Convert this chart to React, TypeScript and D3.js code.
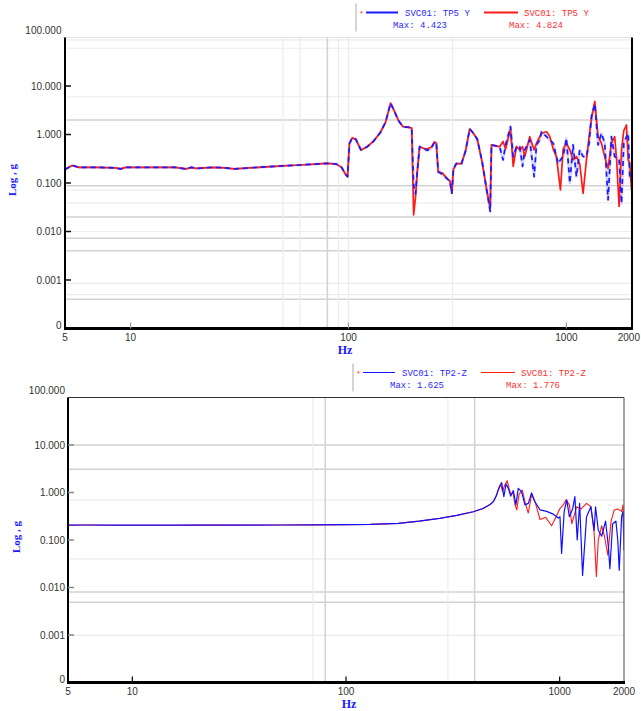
import React from 'react';
import * as d3 from 'd3';

type Pt = [number, number];

// Top panel (SVC01: TP5 Y), [Hz, g]; both traces coincide up to ~195 Hz
const topShared: Pt[] = [
  [5, 0.19], [5.4, 0.23], [5.8, 0.21], [7, 0.21], [8.5, 0.205], [9, 0.195], [9.5, 0.21],
  [12, 0.21], [16, 0.21], [18, 0.195], [19, 0.21], [20, 0.2], [24, 0.21], [27, 0.205],
  [30, 0.195], [35, 0.205], [42, 0.215], [50, 0.225], [60, 0.235], [70, 0.245], [80, 0.255],
  [88, 0.245], [93, 0.21], [97, 0.15], [99, 0.135], [101, 0.65], [104, 0.85], [108, 0.8],
  [114, 0.48], [122, 0.56], [130, 0.72], [140, 1.1], [148, 1.8], [156, 4.42], [162, 3.1],
  [170, 1.9], [178, 1.45], [190, 1.4], [195, 1.35],
];
const topBlueTail: Pt[] = [
  [199, 0.09], [203, 0.06], [207, 0.18], [212, 0.56], [220, 0.52], [230, 0.47], [240, 0.52],
  [248, 0.7], [253, 0.66], [258, 0.17], [270, 0.15], [285, 0.12], [292, 0.11], [298, 0.062],
  [303, 0.19], [312, 0.25], [330, 0.25], [345, 0.47], [360, 1.3], [372, 1.1], [390, 0.8],
  [410, 0.28], [430, 0.075], [447, 0.026], [453, 0.61], [494, 0.56], [512, 0.3], [526, 0.61],
  [554, 1.45], [570, 0.35], [590, 0.56], [611, 0.56], [629, 0.22], [644, 0.48], [679, 0.77],
  [711, 0.135], [729, 0.61], [755, 0.77], [769, 1.14], [811, 0.9], [870, 0.66], [916, 0.25],
  [939, 0.3], [966, 0.35], [1000, 0.84], [1037, 0.099], [1073, 0.61], [1112, 0.135],
  [1151, 0.48], [1193, 0.35], [1236, 0.35], [1271, 0.66], [1303, 2.33], [1350, 4.3],
  [1398, 0.61], [1448, 1.06], [1499, 0.66], [1553, 0.045], [1609, 0.9], [1666, 0.35],
  [1745, 0.3], [1790, 0.038], [1834, 0.66], [1886, 0.9], [1920, 1.06], [1953, 0.135],
  [1990, 0.115], [2000, 0.3],
];
const topRedTail: Pt[] = [
  [199, 0.022], [203, 0.05], [207, 0.18], [212, 0.56], [220, 0.52], [230, 0.5], [240, 0.55],
  [248, 0.7], [253, 0.66], [258, 0.17], [270, 0.16], [285, 0.12], [292, 0.11], [298, 0.062],
  [303, 0.19], [312, 0.25], [330, 0.25], [345, 0.47], [360, 1.3], [372, 1.1], [390, 0.8],
  [410, 0.28], [430, 0.075], [447, 0.03], [453, 0.61], [494, 0.56], [512, 0.72], [526, 0.5],
  [554, 1.3], [570, 0.22], [590, 0.56], [611, 0.48], [629, 0.56], [644, 0.35], [679, 0.9],
  [711, 0.48], [729, 0.66], [755, 0.9], [769, 1.06], [811, 1.14], [840, 0.9], [870, 0.5],
  [900, 0.35], [939, 0.072], [966, 0.5], [1000, 0.66], [1037, 0.48], [1073, 0.3],
  [1112, 0.35], [1151, 0.25], [1193, 0.061], [1236, 0.3], [1271, 0.9], [1303, 2.1],
  [1350, 4.82], [1398, 0.9], [1448, 0.66], [1499, 0.35], [1553, 0.2], [1609, 0.66],
  [1666, 0.9], [1700, 0.3], [1745, 0.033], [1790, 0.48], [1834, 1.2], [1886, 1.57],
  [1920, 0.3], [1953, 0.25], [1990, 0.072], [2000, 0.1],
];

// Bottom panel (SVC01: TP2-Z)
const bottomShared: Pt[] = [
  [5, 0.205], [6, 0.207], [8, 0.205], [10, 0.205], [15, 0.205], [20, 0.206], [30, 0.206],
  [50, 0.207], [70, 0.208], [100, 0.21], [130, 0.213], [176, 0.224], [220, 0.25],
  [275, 0.286], [330, 0.33], [394, 0.394], [438, 0.46], [470, 0.55], [489, 0.64], [505, 0.85],
];
const bottomBlueTail: Pt[] = [
  [516, 1.13], [535, 1.62], [548, 0.82], [561, 1.51], [575, 1.22], [590, 0.84], [607, 1.1],
  [624, 0.55], [640, 1.22], [663, 1.04], [688, 0.55], [713, 0.59], [739, 0.98], [766, 0.64],
  [809, 0.43], [869, 0.4], [934, 0.35], [985, 0.29], [1003, 0.31], [1021, 0.052], [1050, 0.4],
  [1079, 0.7], [1110, 0.31], [1150, 0.45], [1178, 0.82], [1208, 0.1], [1240, 0.59],
  [1280, 0.018], [1336, 0.31], [1400, 0.5], [1450, 0.16], [1472, 0.5], [1516, 0.16],
  [1572, 0.12], [1640, 0.25], [1690, 0.072], [1718, 0.025], [1769, 0.22], [1833, 0.25],
  [1870, 0.1], [1900, 0.023], [1949, 0.31], [1980, 0.4], [2000, 0.06],
];
const bottomRedTail: Pt[] = [
  [520, 1.3], [530, 1.5], [540, 1.05], [552, 1.4], [568, 1.77], [580, 1.2], [592, 0.9],
  [605, 1.0], [618, 0.55], [630, 0.43], [645, 0.9], [668, 1.13], [690, 0.6], [713, 0.37],
  [739, 0.9], [770, 0.6], [809, 0.27], [860, 0.3], [917, 0.2], [960, 0.3], [1000, 0.45],
  [1040, 0.55], [1072, 0.7], [1110, 0.55], [1140, 0.22], [1200, 0.5], [1260, 0.45],
  [1336, 0.59], [1400, 0.5], [1450, 0.14], [1485, 0.017], [1516, 0.1], [1572, 0.2],
  [1620, 0.12], [1680, 0.048], [1740, 0.25], [1800, 0.43], [1870, 0.45], [1950, 0.4],
  [1980, 0.55], [2000, 0.15],
];

const yTicks = [100, 10, 1, 0.1, 0.01, 0.001, 0.0001];
const yTickLabels = ['100.000', '10.000', '1.000', '0.100', '0.010', '0.001', '0'];
const xTicks = [5, 10, 100, 1000, 2000];
const xTickLabels = ['5', '10', '100', '1000', '2000'];
const xTickMarks = [10, 100, 1000];

// grid lines as drawn in the original export
const topGridLight = [89, 60, 6, 0.072, 0.039, 0.01, 0.00085, 0.0005];
const topGridDark = [2, 0.088, 0.02, 0.0073, 0.004, 0.0004];
const topGridHzLight = [50, 60, 90, 100, 300];
const topGridHzDark = [80];
const bottomGridLight = [0.7, 0.04, 0.00098];
const bottomGridDark = [10, 3.1, 0.008, 0.0049];
const bottomGridHzLight = [70, 300];
const bottomGridHzDark = [80, 400];

type PanelProps = {
  id: string;
  left: number; right: number; top: number; bottom: number;
  blue: Pt[]; red: Pt[];
  name: string; blueMax: string; redMax: string; legendX: number;
  gridLight: number[]; gridDark: number[]; gridHzLight: number[]; gridHzDark: number[];
  overlap: boolean; yTitleX: number; hzX: number; labelGap: number;
};

function Panel(p: PanelProps) {
  const x = d3.scaleLog().domain([5, 2000]).range([p.left, p.right]);
  const y = d3.scaleLog().domain([0.0001, 100]).range([p.bottom, p.top]);
  const line = d3.line<Pt>().x(d => x(d[0])).y(d => y(d[1]));
  const lt = p.top - 34;
  const mono = '"Liberation Mono", "DejaVu Sans Mono", monospace';
  const sans = '"Liberation Sans", Arial, sans-serif';
  const serif = '"Liberation Serif", "DejaVu Serif", serif';
  return (
    <g>
      <defs>
        <clipPath id={p.id}>
          <rect x={p.left} y={p.top} width={p.right - p.left} height={p.bottom - p.top} />
        </clipPath>
      </defs>
      {p.gridLight.map(v => (
        <line key={'gl' + v} x1={p.left} x2={p.right} y1={y(v)} y2={y(v)} stroke="#ececec" strokeWidth={1.2} />
      ))}
      {p.gridDark.map(v => (
        <line key={'gd' + v} x1={p.left} x2={p.right} y1={y(v)} y2={y(v)} stroke="#d2d2d2" strokeWidth={1.5} />
      ))}
      {p.gridHzLight.map(v => (
        <line key={'hl' + v} x1={x(v)} x2={x(v)} y1={p.top} y2={p.bottom} stroke="#ececec" strokeWidth={1.2} />
      ))}
      {p.gridHzDark.map(v => (
        <line key={'hd' + v} x1={x(v)} x2={x(v)} y1={p.top} y2={p.bottom} stroke="#d2d2d2" strokeWidth={1.5} />
      ))}

      <g clipPath={`url(#${p.id})`} fill="none" strokeLinejoin="round">
        {p.overlap ? (
          <>
            <path d={line(p.blue) ?? ''} stroke="#8080ff" strokeOpacity={0.35} strokeWidth={2.6} />
            <path d={line(p.red) ?? ''} stroke="#ff1a1a" strokeWidth={1.7} />
            <path d={line(p.blue) ?? ''} stroke="#1a1aff" strokeWidth={1.7} strokeDasharray="5,4" />
          </>
        ) : (
          <>
            <path d={line(p.red) ?? ''} stroke="#ff1a1a" strokeWidth={1.1} />
            <path d={line(p.blue) ?? ''} stroke="#1010ff" strokeWidth={1.2} />
          </>
        )}
      </g>

      {/* frame */}
      <line x1={p.left} x2={p.right} y1={p.top} y2={p.top} stroke={p.overlap ? '#e2e2e2' : '#333'} strokeWidth={1} />
      <line x1={p.right} x2={p.right} y1={p.top} y2={p.bottom} stroke={p.overlap ? '#000' : '#666'} strokeWidth={p.overlap ? 2 : 1.2} />
      <line x1={p.left} x2={p.left} y1={p.top} y2={p.bottom + 1} stroke="#000" strokeWidth={2} />
      <line x1={p.left - 1} x2={p.right + 1} y1={p.bottom} y2={p.bottom} stroke="#000" strokeWidth={3} />

      {/* y ticks */}
      {yTicks.map((v, i) => (
        <g key={'yt' + v}>
          {i > 0 && i < yTicks.length - 1 && (
            <line x1={p.left} x2={p.left + 6} y1={y(v)} y2={y(v)} stroke={p.overlap ? '#111' : '#888'} strokeWidth={1.5} />
          )}
          <text
            x={p.left - p.labelGap}
            y={y(v) + (i === 0 ? -7 : i === yTicks.length - 1 ? -3 : 0)}
            dy="0.35em"
            textAnchor="end"
            fontFamily={sans}
            fontSize={10}
            fill="#333"
          >
            {yTickLabels[i]}
          </text>
        </g>
      ))}

      {/* x ticks */}
      {xTickMarks.map(v => (
        <line key={'xm' + v} x1={x(v)} x2={x(v)} y1={p.bottom} y2={p.bottom - 6} stroke={p.overlap ? '#999' : '#000'} strokeWidth={1.2} />
      ))}
      {xTicks.map((v, i) => {
        const tx = x(v);
        const tooFar = tx + 12 > 641;
        return (
          <text
            key={'xt' + v}
            x={tooFar ? 640 : tx}
            y={p.bottom + 12}
            textAnchor={tooFar ? 'end' : 'middle'}
            fontFamily={sans}
            fontSize={10}
            fill="#333"
          >
            {xTickLabels[i]}
          </text>
        );
      })}

      {/* axis titles */}
      <text x={p.hzX} y={p.bottom + 25} textAnchor="middle" fontFamily={serif} fontWeight="bold" fontSize={12} fill="#1a1aff">
        Hz
      </text>
      <text
        transform={`translate(${p.yTitleX},${(y(1) + y(0.01)) / 2 - 3}) rotate(-90)`}
        textAnchor="middle"
        fontFamily={serif}
        fontWeight="bold"
        fontSize={11}
        fill="#1a1aff"
      >
        Log , g
      </text>

      {/* legend */}
      <line x1={p.legendX} x2={p.legendX} y1={lt} y2={lt + 28} stroke="#aaa" strokeWidth={1} />
      <text x={p.legendX + 3} y={lt + 12} fontFamily={mono} fontSize={8} fill="#ff3030">*</text>
      <line x1={p.legendX + 10} x2={p.legendX + 42} y1={lt + 9} y2={lt + 9} stroke="#1a1aff" strokeWidth={p.overlap ? 2 : 1} />
      <text x={p.legendX + 49} y={lt + 12} fontFamily={mono} fontSize={9} fill="#2a2aff">{p.name}</text>
      <line x1={p.legendX + 128} x2={p.legendX + 162} y1={lt + 9} y2={lt + 9} stroke="#ff1a1a" strokeWidth={p.overlap ? 2 : 1} />
      <text x={p.legendX + 168} y={lt + 12} fontFamily={mono} fontSize={9} fill="#ff3030">{p.name}</text>
      <text x={p.legendX + 37} y={lt + 24} fontFamily={mono} fontSize={9} fill="#2a2aff">{p.blueMax}</text>
      <text x={p.legendX + 153} y={lt + 24} fontFamily={mono} fontSize={9} fill="#ff3030">{p.redMax}</text>
    </g>
  );
}

export default function App() {
  return (
    <svg width={641} height={711} style={{ position: 'absolute', left: 0, top: 0, background: '#fff' }}>
      <Panel
        id="clipTop"
        left={65} right={632} top={37.5} bottom={328.5}
        blue={[...topShared, ...topBlueTail]}
        red={[...topShared, ...topRedTail]}
        name="SVC01: TP5 Y" blueMax="Max: 4.423" redMax="Max: 4.824" legendX={356}
        gridLight={topGridLight} gridDark={topGridDark}
        gridHzLight={topGridHzLight} gridHzDark={topGridHzDark}
        overlap={true} yTitleX={16} hzX={345} labelGap={3.5}
      />
      <Panel
        id="clipBottom"
        left={68} right={624} top={397.5} bottom={682.5}
        blue={[...bottomShared, ...bottomBlueTail]}
        red={[...bottomShared, ...bottomRedTail]}
        name="SVC01: TP2-Z" blueMax="Max: 1.625" redMax="Max: 1.776" legendX={353}
        gridLight={bottomGridLight} gridDark={bottomGridDark}
        gridHzLight={bottomGridHzLight} gridHzDark={bottomGridHzDark}
        overlap={false} yTitleX={20} hzX={349} labelGap={3}
      />
    </svg>
  );
}
